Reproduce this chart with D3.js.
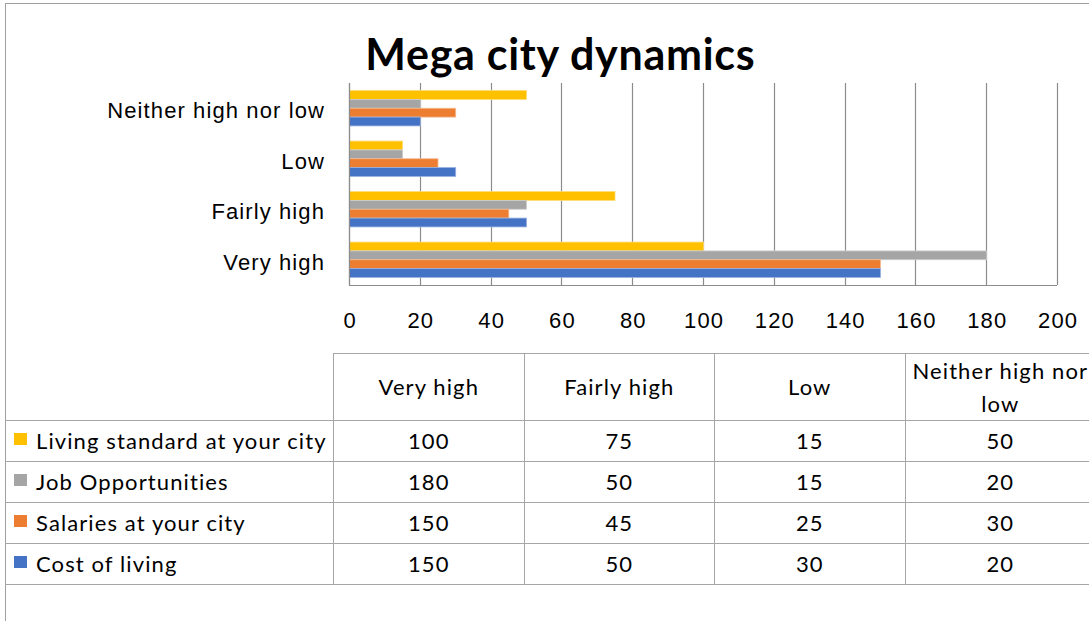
<!DOCTYPE html>
<html><head><meta charset="utf-8">
<script src="https://cdn.jsdelivr.net/npm/d3@7"></script>
<style>
body{margin:0;background:#fff;}
svg{display:block;font-family:Lato,"Open Sans",sans-serif;}
</style>
</head><body>
<svg id="chart" width="1089" height="621"></svg>
<script>
// ---------- data ----------
const chartTitle = "Mega city dynamics";
const categories = ["Very high", "Fairly high", "Low", "Neither high nor low"];
const seriesNames = ["Living standard at your city", "Job Opportunities", "Salaries at your city", "Cost of living"];
const livingStandard   = [100, 75, 15, 50];
const jobOpportunities = [180, 50, 15, 20];
const salaries         = [150, 45, 25, 30];
const costOfLiving     = [150, 50, 30, 20];
const seriesColors = ["#FFC000", "#A5A5A5", "#ED7D31", "#4472C4"];
const tickValues = [0, 20, 40, 60, 80, 100, 120, 140, 160, 180, 200];

const seriesValues = [livingStandard, jobOpportunities, salaries, costOfLiving];

// ---------- layout ----------
const W = 1089, H = 621;
const plot = {left: 349, right: 1057, top: 83, bottom: 285};
const table = {left: 333, colW: 190.5, headTop: 353, rowTop: 420, rowH: 41, outerLeft: 5};
const fontSize = 22, titleSize = 43;
const gridColor = "#8c8c8c", tableLine = "#a6a6a6", borderColor = "#a0a0a0";

const svg = d3.select("#chart");

// letter-spacing calibration (to mimic Excel's text rendering widths)
function measure(txt, size, weight) {
  const t = svg.append("text").attr("font-size", size).attr("font-weight", weight || "normal").text(txt);
  const w = t.node().getComputedTextLength();
  t.remove();
  return w;
}
const refW = measure("Neither high nor low", fontSize);
const ls = (220 - refW) / 20;
const titleW = measure(chartTitle, titleSize, "bold");
const tls = (390 - titleW) / 18;

// outer border
svg.append("rect").attr("x", 5.5).attr("y", 3.5).attr("width", W + 20).attr("height", H + 20)
  .attr("fill", "none").attr("stroke", borderColor).attr("stroke-width", 1);

// title
svg.append("text").attr("x", 560 + tls / 2).attr("y", 70)
  .attr("text-anchor", "middle").attr("font-size", titleSize).attr("font-weight", "bold")
  .attr("letter-spacing", tls).attr("fill", "#000").text(chartTitle);

// scales
const x = d3.scaleLinear().domain([0, 200]).range([plot.left, plot.right]);
const y = d3.scaleBand().domain(categories.slice().reverse()).range([plot.top, plot.bottom])
  .paddingInner(0.3).paddingOuter(0.15);
const yInner = d3.scaleBand().domain(seriesNames).range([0, y.bandwidth()]);

// gridlines
svg.append("g").selectAll("line").data(tickValues).join("line")
  .attr("x1", d => Math.round(x(d)) + 0.5).attr("x2", d => Math.round(x(d)) + 0.5)
  .attr("y1", plot.top).attr("y2", plot.bottom)
  .attr("stroke", gridColor).attr("stroke-width", 1.2);

// bars
const barData = [];
categories.forEach((c, ci) => seriesNames.forEach((s, si) =>
  barData.push({cat: c, series: s, value: seriesValues[si][ci], color: seriesColors[si]})));
svg.append("g").selectAll("rect").data(barData).join("rect")
  .attr("x", x(0) + 0.5)
  .attr("y", d => y(d.cat) + yInner(d.series))
  .attr("width", d => x(d.value) - x(0))
  .attr("height", yInner.bandwidth())
  .attr("fill", d => d.color)
  .attr("stroke", d => d3.interpolateRgb(d.color, "#fff")(0.45))
  .attr("stroke-width", 0.8);

// axis lines
svg.append("line").attr("x1", plot.left).attr("x2", plot.right).attr("y1", plot.bottom + 0.5).attr("y2", plot.bottom + 0.5)
  .attr("stroke", gridColor).attr("stroke-width", 1.2);
svg.append("line").attr("x1", plot.left + 0.5).attr("x2", plot.left + 0.5).attr("y1", plot.top).attr("y2", plot.bottom)
  .attr("stroke", gridColor).attr("stroke-width", 1.2);

// bottom axis labels
const xAxis = svg.append("g").attr("transform", `translate(0,${plot.bottom})`)
  .call(d3.axisBottom(x).tickValues(tickValues).tickSize(0).tickPadding(27).tickFormat(d3.format("d")));
xAxis.select(".domain").remove();
xAxis.selectAll("text").attr("font-size", fontSize).attr("font-family", null)
  .attr("letter-spacing", ls).attr("dx", ls / 2).attr("fill", "#000");

// left axis labels
const yAxis = svg.append("g").attr("transform", `translate(${plot.left},0)`)
  .call(d3.axisLeft(y).tickSize(0).tickPadding(24));
yAxis.select(".domain").remove();
yAxis.selectAll("text").attr("font-size", fontSize).attr("font-family", null)
  .attr("letter-spacing", ls).attr("dy", "0.46em").attr("fill", "#000");

// ---------- data table ----------
const col = d3.scaleBand().domain(categories).range([table.left, table.left + table.colW * categories.length]);
const row = d3.scaleBand().domain(seriesNames).range([table.rowTop, table.rowTop + table.rowH * seriesNames.length]);
const tableBottom = table.rowTop + table.rowH * seriesNames.length;
const tg = svg.append("g");

// horizontal lines
tg.append("line").attr("x1", table.left).attr("x2", W + 10)
  .attr("y1", table.headTop + 0.5).attr("y2", table.headTop + 0.5).attr("stroke", tableLine);
seriesNames.concat(["_end"]).forEach((s, i) => {
  const yy = table.rowTop + i * table.rowH + 0.5;
  tg.append("line").attr("x1", table.outerLeft).attr("x2", W + 10)
    .attr("y1", yy).attr("y2", yy).attr("stroke", tableLine);
});
// vertical lines
categories.forEach(c => {
  const xx = Math.round(col(c)) + 0.5;
  tg.append("line").attr("x1", xx).attr("x2", xx)
    .attr("y1", table.headTop).attr("y2", tableBottom).attr("stroke", tableLine);
});

// header labels (wrapped)
categories.forEach(c => {
  const words = c.split(" ");
  const lines = [];
  let cur = "";
  words.forEach(w => {
    const test = cur ? cur + " " + w : w;
    if (cur && measure(test, fontSize) + ls * test.length > table.colW - 8) { lines.push(cur); cur = w; }
    else cur = test;
  });
  lines.push(cur);
  const cx = col(c) + col.bandwidth() / 2 + ls / 2;
  const lineH = 33;
  const midY = (table.headTop + table.rowTop) / 2;
  const base0 = midY + 8.5 - (lines.length - 1) * lineH / 2;
  lines.forEach((ln, li) => {
    tg.append("text").attr("x", cx).attr("y", base0 + li * lineH)
      .attr("text-anchor", "middle").attr("font-size", fontSize).attr("letter-spacing", ls)
      .attr("fill", "#000").text(ln);
  });
});

// rows: legend keys, names, values
seriesNames.forEach((s, si) => {
  const top = row(s);
  const cy = top + row.bandwidth() / 2;
  tg.append("rect").attr("x", 14).attr("y", top + 13).attr("width", 13).attr("height", 12)
    .attr("fill", seriesColors[si]);
  tg.append("text").attr("x", 36).attr("y", cy + 8.5)
    .attr("font-size", fontSize).attr("letter-spacing", ls).attr("fill", "#000").text(s);
  categories.forEach((c, ci) => {
    tg.append("text").attr("x", col(c) + col.bandwidth() / 2 + ls / 2).attr("y", cy + 8.5)
      .attr("text-anchor", "middle").attr("font-size", fontSize).attr("letter-spacing", ls)
      .attr("fill", "#000").text(seriesValues[si][ci]);
  });
});
</script>
</body></html>
